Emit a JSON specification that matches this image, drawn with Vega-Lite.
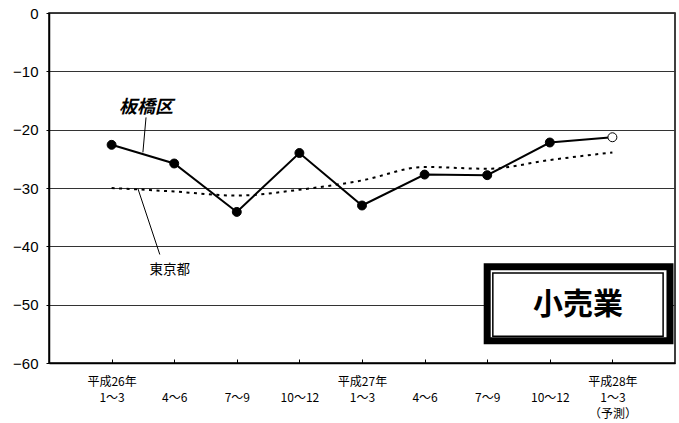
{
  "$schema": "https://vega.github.io/schema/vega-lite/v6.json",
  "width": 626,
  "height": 350,
  "autosize": "none",
  "padding": {"left": 49, "top": 13, "right": 4, "bottom": 60},
  "background": "white",
  "config": {
    "view": {"stroke": "#000", "strokeWidth": 1.5},
    "font": "Noto Sans CJK JP"
  },
  "datasets": {
    "series": [
      {"q": 1, "region": "板橋区", "v": -22.6, "kind": "実績"},
      {"q": 2, "region": "板橋区", "v": -25.8, "kind": "実績"},
      {"q": 3, "region": "板橋区", "v": -34.1, "kind": "実績"},
      {"q": 4, "region": "板橋区", "v": -24.0, "kind": "実績"},
      {"q": 5, "region": "板橋区", "v": -33.0, "kind": "実績"},
      {"q": 6, "region": "板橋区", "v": -27.7, "kind": "実績"},
      {"q": 7, "region": "板橋区", "v": -27.8, "kind": "実績"},
      {"q": 8, "region": "板橋区", "v": -22.2, "kind": "実績"},
      {"q": 9, "region": "板橋区", "v": -21.3, "kind": "予測"},
      {"q": 1, "region": "東京都", "v": -30.0, "kind": "実績"},
      {"q": 2, "region": "東京都", "v": -30.6, "kind": "実績"},
      {"q": 3, "region": "東京都", "v": -31.3, "kind": "実績"},
      {"q": 4, "region": "東京都", "v": -30.3, "kind": "実績"},
      {"q": 5, "region": "東京都", "v": -28.7, "kind": "実績"},
      {"q": 6, "region": "東京都", "v": -26.4, "kind": "実績"},
      {"q": 7, "region": "東京都", "v": -26.7, "kind": "実績"},
      {"q": 8, "region": "東京都", "v": -25.2, "kind": "実績"},
      {"q": 9, "region": "東京都", "v": -23.9, "kind": "予測"}
    ]
  },
  "layer": [
    {
      "data": {"name": "series"},
      "transform": [{"filter": "datum.region === '東京都'"}],
      "mark": {"type": "line", "color": "#000", "strokeWidth": 2, "strokeDash": [3, 4.5], "interpolate": "monotone"},
      "encoding": {
        "x": {
          "field": "q", "type": "quantitative",
          "scale": {"domain": [0, 10], "nice": false, "zero": false},
          "axis": {
            "title": null,
            "values": [1, 2, 3, 4, 5, 6, 7, 8, 9],
            "grid": false,
            "domainColor": "#000", "domainWidth": 1.5,
            "tickColor": "#000", "tickSize": -4, "tickWidth": 1,
            "labelFont": "Noto Sans CJK JP", "labelFontSize": 12, "labelColor": "#000",
            "labelPadding": 17, "labelBaseline": "top", "labelLineHeight": 16,
            "labelExpr": "datum.value == 1 ? ['平成26年', '1〜3'] : datum.value == 2 ? ['', '4〜6'] : datum.value == 3 ? ['', '7〜9'] : datum.value == 4 ? ['', '10〜12'] : datum.value == 5 ? ['平成27年', '1〜3'] : datum.value == 6 ? ['', '4〜6'] : datum.value == 7 ? ['', '7〜9'] : datum.value == 8 ? ['', '10〜12'] : ['平成28年', '1〜3', '（予測）']"
          }
        },
        "y": {
          "field": "v", "type": "quantitative",
          "scale": {"domain": [-60, 0], "nice": false},
          "axis": {
            "title": null,
            "values": [0, -10, -20, -30, -40, -50, -60],
            "grid": true, "gridColor": "#333", "gridWidth": 1,
            "domainColor": "#000", "domainWidth": 1.5,
            "tickColor": "#000", "tickSize": 3,
            "labelFont": "Liberation Sans", "labelFontSize": 15, "labelColor": "#000",
            "labelPadding": 8
          }
        }
      }
    },
    {
      "data": {"name": "series"},
      "transform": [{"filter": "datum.region === '板橋区'"}],
      "mark": {"type": "line", "color": "#000", "strokeWidth": 2},
      "encoding": {
        "x": {"field": "q", "type": "quantitative"},
        "y": {"field": "v", "type": "quantitative"}
      }
    },
    {
      "data": {"name": "series"},
      "transform": [{"filter": "datum.region === '板橋区'"}],
      "mark": {"type": "point", "filled": true, "size": 80, "stroke": "#000", "strokeWidth": 1, "opacity": 1},
      "encoding": {
        "x": {"field": "q", "type": "quantitative"},
        "y": {"field": "v", "type": "quantitative"},
        "fill": {"field": "kind", "type": "nominal", "scale": {"domain": ["実績", "予測"], "range": ["#000", "#fff"]}, "legend": null}
      }
    },
    {
      "data": {"values": [
        {"x": 1.55, "y": -17.9, "x2": 1.50, "y2": -23.9},
        {"x": 1.42, "y": -30.1, "x2": 1.77, "y2": -41.4}
      ]},
      "mark": {"type": "rule", "color": "#000", "strokeWidth": 1},
      "encoding": {
        "x": {"field": "x", "type": "quantitative"},
        "y": {"field": "y", "type": "quantitative"},
        "x2": {"field": "x2"},
        "y2": {"field": "y2"}
      }
    },
    {
      "data": {"values": [{"x": 1.55, "y": -16.3, "t": "板橋区"}]},
      "mark": {"type": "text", "font": "Noto Sans CJK JP", "fontSize": 18, "fontWeight": "bold", "fontStyle": "italic", "color": "#000"},
      "encoding": {
        "x": {"field": "x", "type": "quantitative"},
        "y": {"field": "y", "type": "quantitative"},
        "text": {"field": "t"}
      }
    },
    {
      "data": {"values": [{"x": 1.93, "y": -44.0, "t": "東京都"}]},
      "mark": {"type": "text", "font": "Noto Sans CJK JP", "fontSize": 13.5, "color": "#000"},
      "encoding": {
        "x": {"field": "x", "type": "quantitative"},
        "y": {"field": "y", "type": "quantitative"},
        "text": {"field": "t"}
      }
    },
    {
      "data": {"values": [{"x": 7.0, "y": -43.5, "x2": 9.92, "y2": -56.2}]},
      "mark": {"type": "rect", "fill": "#fff", "stroke": "#000", "strokeWidth": 7},
      "encoding": {
        "x": {"field": "x", "type": "quantitative"},
        "y": {"field": "y", "type": "quantitative"},
        "x2": {"field": "x2"},
        "y2": {"field": "y2"}
      }
    },
    {
      "data": {"values": [{"x": 7.09, "y": -44.55, "x2": 9.81, "y2": -55.4}]},
      "mark": {"type": "rect", "fill": "#fff", "stroke": "#000", "strokeWidth": 1.5},
      "encoding": {
        "x": {"field": "x", "type": "quantitative"},
        "y": {"field": "y", "type": "quantitative"},
        "x2": {"field": "x2"},
        "y2": {"field": "y2"}
      }
    },
    {
      "data": {"values": [{"x": 8.45, "y": -50.0, "t": "小売業"}]},
      "mark": {"type": "text", "font": "Noto Sans CJK JP", "fontSize": 30, "fontWeight": "bold", "color": "#000", "baseline": "middle"},
      "encoding": {
        "x": {"field": "x", "type": "quantitative"},
        "y": {"field": "y", "type": "quantitative"},
        "text": {"field": "t"}
      }
    }
  ]
}
